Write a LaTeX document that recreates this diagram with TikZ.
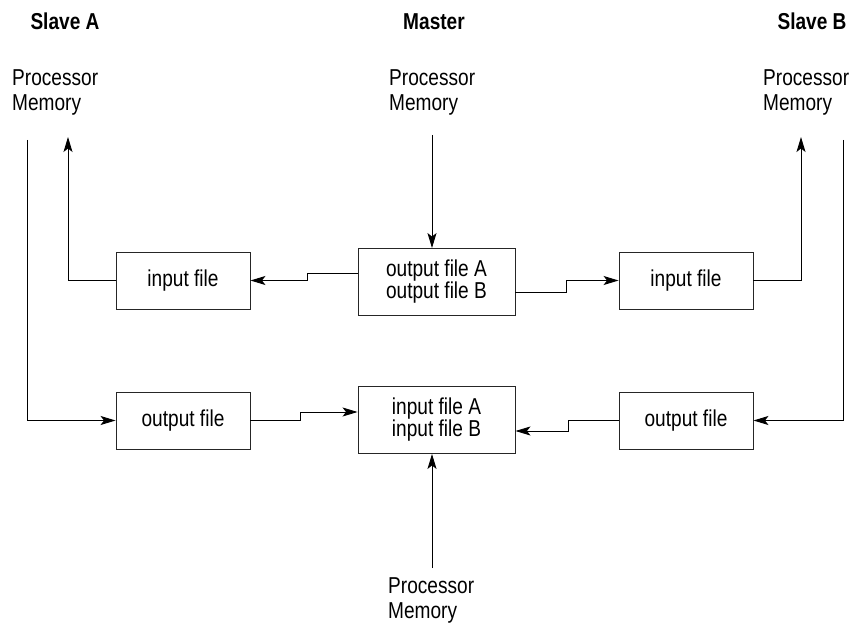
\documentclass[tikz,border=0pt]{standalone}
\usepackage{fontspec}
\setmainfont[FakeStretch=0.83]{Liberation Sans}
\usetikzlibrary{arrows.meta}
\begin{document}
\begin{tikzpicture}[x=1pt,y=-1pt,
  every node/.style={font=\fontsize{23}{25.5}\selectfont},
  title/.style={font=\fontsize{23}{25}\selectfont\bfseries, anchor=base, inner sep=0},
  pm/.style={anchor=north west, align=left, inner sep=0},
  filebox/.style={draw=black!85, line width=0.9pt, minimum width=134pt, minimum height=57pt, inner sep=0, align=center},
  bigbox/.style={filebox, minimum width=157pt, minimum height=67pt, font=\fontsize{23}{22}\selectfont},
  conn/.style={line width=0.9pt},
  arr/.style={conn, -{Stealth[length=15pt,width=9pt,inset=3.5pt]}}
]
\useasboundingbox (0,0) rectangle (865,623);

% titles
\node[title] (tA) at (65,30) {Slave A};
\node[title] (tM) at (434,30) {Master};
\node[title] (tB) at (812,30) {Slave B};

% processor memories
\node[pm] (pmA) at (12,69) {Processor\\Memory};
\node[pm] (pmM) at (389,69) {Processor\\Memory};
\node[pm] (pmB) at (763,69) {Processor\\Memory};
\node[pm] (pmC) at (388,577) {Processor\\Memory};

% boxes
\node[filebox] (inA) at (183,280.5) {input file};
\node[bigbox] (mout) at (436.5,282) {output file A\\output file B};
\node[filebox] (inB) at (686,280.5) {input file};
\node[filebox] (outA) at (183,420.5) {output file};
\node[bigbox] (min) at (436.5,420) {input file A\\input file B};
\node[filebox] (outB) at (686,420.5) {output file};

% free ends
\coordinate (a1) at (27,140);
\coordinate (a2) at (68,137);
\coordinate (m1) at (432,135);
\coordinate (b2) at (801,137);
\coordinate (b1) at (843,140);
\coordinate (c1) at (432,568);

% connectors
\draw[arr] (m1) -- (m1 |- mout.north);
\draw[arr] (c1) -- (c1 |- min.south);
\draw[arr] (a1) |- (outA.west);
\draw[arr] (inA.west) -| (a2);
\draw[arr] (inB.east) -| (b2);
\draw[arr] (b1) |- (outB.east);
\draw[arr] ([yshift=9pt]mout.west) -- ++(-50,0) |- (inA.east);
\draw[arr] ([yshift=-10pt]mout.east) -- ++(51,0) |- (inB.west);
\draw[arr] (outA.east) -- ++(50,0) |- ([yshift=8pt]min.west);
\draw[arr] (outB.west) -- ++(-50,0) |- ([yshift=-11pt]min.east);
\end{tikzpicture}
\end{document}
